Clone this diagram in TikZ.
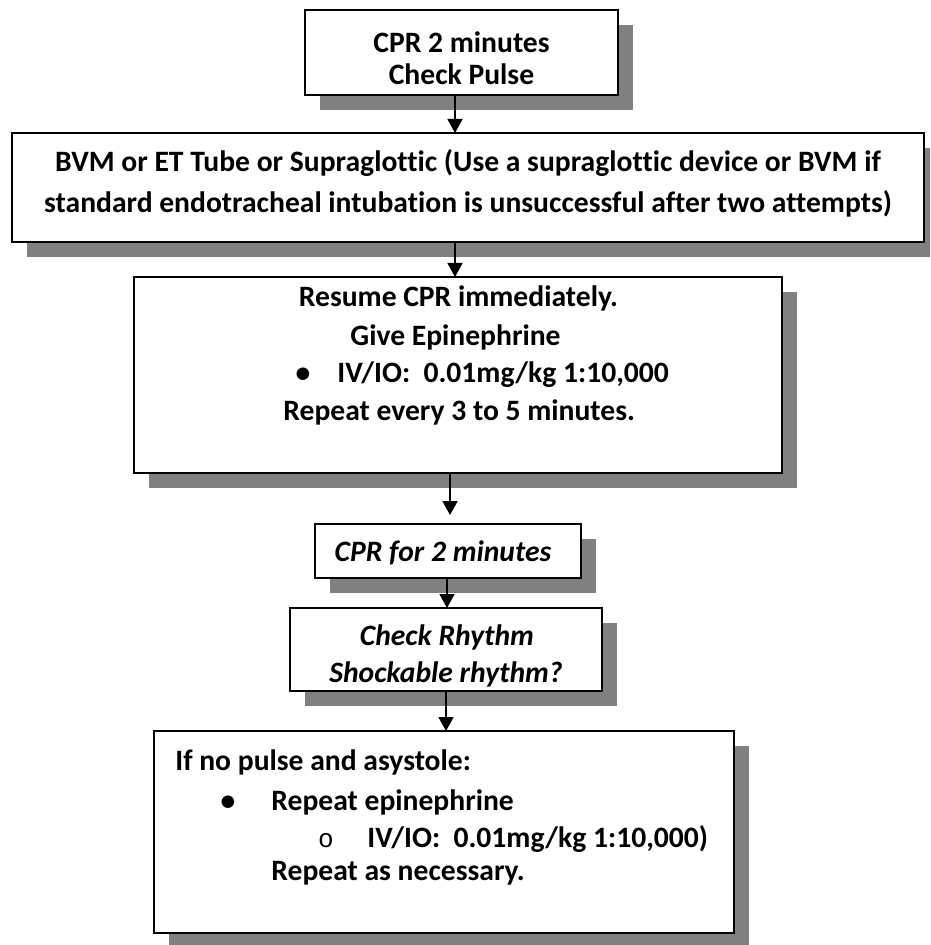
\documentclass[tikz,border=0pt]{standalone}
\usepackage{fontspec}
\setmainfont{Carlito}[Ligatures=NoCommon]
\newfontfamily\monofont{Liberation Mono}
\usetikzlibrary{shadows,arrows.meta}
\definecolor{shadowgray}{RGB}{128,128,128}
\begin{document}
\begin{tikzpicture}[x=0.5pt,y=-0.5pt,
  box/.style={draw=black,line width=1.1pt,fill=white,anchor=north west,
    inner sep=0pt,outer sep=0pt,
    drop shadow={shadow xshift=7.5pt,shadow yshift=-7.5pt,fill=shadowgray,opacity=1}},
  txt/.style={anchor=base,inner sep=0pt,font=\fontsize{14.8pt}{17pt}\selectfont\bfseries},
  txtl/.style={txt,anchor=base west},
  itxt/.style={txt,font=\fontsize{14.8pt}{17pt}\selectfont\bfseries\itshape},
  flow/.style={line width=0.9pt,-{Triangle[length=7pt,width=7.5pt]}}]
\useasboundingbox (0,0) rectangle (930,945);
\clip (0,0) rectangle (930,945);

% boxes
\node[box,minimum width=156.5pt,minimum height=42.5pt] (b1) at (305,10) {};
\node[box,minimum width=456pt,minimum height=54.5pt] (b2) at (12,133) {};
\node[box,minimum width=324pt,minimum height=98pt] (b3) at (134,277) {};
\node[box,minimum width=133pt,minimum height=27pt] (b4) at (315,524) {};
\node[box,minimum width=156pt,minimum height=41.5pt] (b5) at (290,608) {};
\node[box,minimum width=290pt,minimum height=101pt] (b6) at (154,731) {};

% arrow columns
\coordinate (colA) at (455,0);
\coordinate (colB) at (450,0);
\coordinate (colC) at (447,0);
\coordinate (colD) at (446,0);

\draw[flow] (b1.south -| colA) -- (b2.north -| colA);
\draw[flow] (b2.south -| colA) -- (b3.north -| colA);
\draw[flow,shorten >=4.5pt] (b3.south -| colB) -- (b4.north -| colB);
\draw[flow] (b4.south -| colC) -- (b5.north -| colC);
\draw[flow] (b5.south -| colD) -- (b6.north -| colD);

% texts
\node[txt] (t1a) at (461.5,53) {CPR 2 minutes};
\node[txt] (t1b) at (461.5,85) {Check Pulse};

\node[txt] (t2a) at (468,172) {BVM or ET Tube or Supraglottic (Use a supraglottic device or BVM if};
\node[txt] (t2b) at (468,213) {standard endotracheal intubation is unsuccessful after two attempts)};

\node[txt] (t3a) at (458.5,307) {Resume CPR immediately.};
\node[txtl] (t3b) at (350,346) {Give Epinephrine};
\node[txt] (t3c) at (303,383) {•};
\node[txtl] (t3d) at (337,383) {IV/IO:\hspace{0.45em}0.01mg/kg 1:10,000};
\node[txtl] (t3e) at (283,421) {Repeat every 3 to 5 minutes.};

\node[itxt] (t4) at (443,561) {CPR for 2 minutes};

\node[itxt] (t5a) at (447,645) {Check Rhythm};
\node[itxt] (t5b) at (446,682) {Shockable rhythm?};

\node[txtl] (t6a) at (175,770) {If no pulse and asystole:};
\node[txt] (t6b) at (228,810) {•};
\node[txtl] (t6c) at (271,810) {Repeat epinephrine};
\node[txt,font=\fontsize{13pt}{17pt}\selectfont\monofont] (t6d) at (326,847) {o};
\node[txtl] (t6e) at (367,847) {IV/IO:\hspace{0.45em}0.01mg/kg 1:10,000)};
\node[txtl] (t6f) at (271,880) {Repeat as necessary.};
\end{tikzpicture}
\end{document}
